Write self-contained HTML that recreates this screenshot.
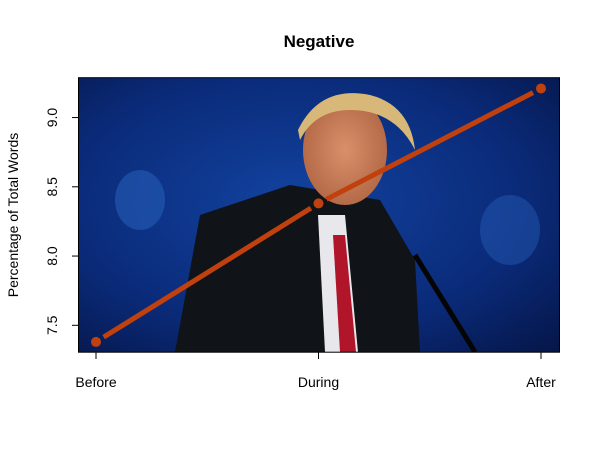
<!DOCTYPE html>
<html><head><meta charset="utf-8"><style>
body{margin:0;background:#fff;}
svg{font-family:"Liberation Sans",Arial,sans-serif;}
</style></head><body>
<svg width="600" height="450" viewBox="0 0 600 450">
<defs>
<radialGradient id="bg" cx="0.45" cy="0.45" r="0.8">
<stop offset="0" stop-color="#1243a0"/><stop offset="0.6" stop-color="#0a2a78"/><stop offset="1" stop-color="#051444"/>
</radialGradient>
<radialGradient id="face" cx="0.5" cy="0.5" r="0.5">
<stop offset="0" stop-color="#d9906a"/><stop offset="1" stop-color="#b56a48"/>
</radialGradient>
<clipPath id="pc"><rect x="78.5" y="77.7" width="481" height="274.5"/></clipPath>
</defs>
<text x="319" y="47" text-anchor="middle" font-size="17" font-weight="bold">Negative</text>
<g clip-path="url(#pc)">
<rect x="78.5" y="77.7" width="481" height="274.5" fill="url(#bg)"/>
<ellipse cx="140" cy="200" rx="25" ry="30" fill="#2a63c0" opacity="0.5"/>
<ellipse cx="510" cy="230" rx="30" ry="35" fill="#2a63c0" opacity="0.4"/>
<path d="M175 352 L200 215 L290 185 L320 190 L380 200 L415 260 L420 352 Z" fill="#101318"/>
<path d="M318 215 L345 215 L358 352 L325 352 Z" fill="#e8e8ec"/>
<path d="M333 235 L345 235 L356 352 L340 352 Z" fill="#b0152a"/>
<ellipse cx="345" cy="150" rx="42" ry="55" fill="url(#face)"/>
<path d="M298 130 Q320 85 370 95 Q410 105 415 150 Q395 110 350 110 Q315 110 300 140 Z" fill="#d8b878"/>
<line x1="415" y1="255" x2="475" y2="352" stroke="#050505" stroke-width="5"/>
</g>
<rect x="78.5" y="77.7" width="481" height="274.5" fill="none" stroke="#000" stroke-width="1"/>
<g id="axes"></g>
<g id="series"></g>
<text transform="translate(18 215) rotate(-90)" text-anchor="middle" font-size="14">Percentage of Total Words</text>
</svg>
<script>
const categories=["Before","During","After"];
const values=[7.38,8.38,9.21];
const yTicks=[7.5,8.0,8.5,9.0];
const yTickLabels=["7.5","8.0","8.5","9.0"];
const NS="http://www.w3.org/2000/svg";
function xs(i){return 96+i*222.5;}
function ys(v){return 325.3-(v-7.5)*138.5;}
function mk(t,a,p){const e=document.createElementNS(NS,t);for(const k in a)e.setAttribute(k,a[k]);p.appendChild(e);return e;}
const ax=document.getElementById('axes'),se=document.getElementById('series');
yTicks.forEach((v,i)=>{
 const l=mk('line',{x1:72,x2:78.5,y1:ys(v),y2:ys(v),stroke:'#000'},ax);
 
 
 const t=mk('text',{transform:'translate(57 '+ys(v)+') rotate(-90)','text-anchor':'middle','font-size':14},ax);
 t.textContent=yTickLabels[i];
 
 
});
categories.forEach((c,i)=>{
 const l=mk('line',{x1:xs(i),x2:xs(i),y1:352,y2:359,stroke:'#000'},ax);
 
 
 const t=mk('text',{x:xs(i),y:387,'text-anchor':'middle','font-size':14},ax);
 t.textContent=c;
 
 
});
for(let i=0;i+1<values.length;i++){
 const x1=xs(i),y1=ys(values[i]),x2=xs(i+1),y2=ys(values[i+1]);
 const dx=x2-x1,dy=y2-y1,d=Math.hypot(dx,dy),g=9;
 const l=mk('line',{x1:x1+dx/d*g,y1:y1+dy/d*g,x2:x2-dx/d*g,y2:y2-dy/d*g,stroke:'#c0400e','stroke-width':5},se);
 
 
}
values.forEach((v,i)=>{
 const c=mk('circle',{cx:xs(i),cy:ys(v),r:5,fill:'#c0400e'},se);
 
 
});
</script>
</body></html>
